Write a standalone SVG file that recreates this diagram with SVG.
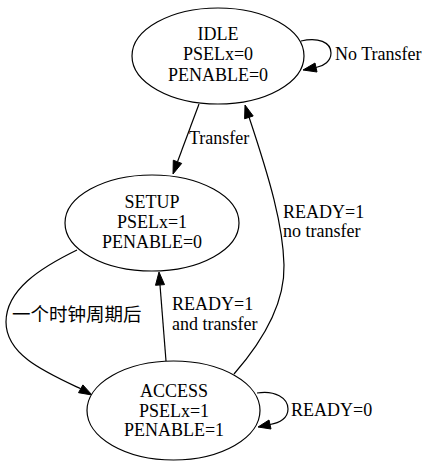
<svg xmlns="http://www.w3.org/2000/svg" width="428" height="466" viewBox="0 0 428 466" font-family="'Liberation Serif', 'Times New Roman', Times, serif" font-size="18">
<style>
.n{fill:#fff;stroke:#000;stroke-width:1.2}
.e{fill:none;stroke:#000;stroke-width:1.2}
.a{fill:#000;stroke:#000;stroke-width:1}
.c{text-anchor:middle}
</style>
<rect width="428" height="466" fill="#fff"/>
<g id="edges">
<g id="e_idle_self">
<path class="e" d="M301,41 C318,37 331,42 331,53 C331,61 324,66 316,67.5"/>
<polygon class="a" points="303,70 315,63 317,72"/>
<text x="335" y="60">No Transfer</text>
</g>
<g id="e_idle_setup">
<path class="e" d="M199,104 L177.5,161.8"/>
<polygon class="a" points="173,174 181.7,163.4 173.3,160.2"/>
<text x="189" y="144">Transfer</text>
</g>
<g id="e_setup_access">
<path class="e" d="M77,250 C40,268 6,290 6,322 C6,355 45,372 80.7,388.8"/>
<polygon class="a" points="92,395 78.5,392.7 82.9,384.9"/>
<text x="12" y="321" font-family="'Noto Sans CJK SC', sans-serif" font-size="18.5">一个时钟周期后</text>
</g>
<g id="e_access_setup">
<path class="e" d="M166,361 L160,285"/>
<polygon class="a" points="159,272 164.5,284.6 155.5,285.3"/>
<text x="172" y="310">READY=1</text>
<text x="172" y="330">and transfer</text>
</g>
<g id="e_access_idle">
<path class="e" d="M234,374 C262,342 285,305 284,265 C283,225 270,180 249,117"/>
<polygon class="a" points="245,105 253.2,116 244.6,118.8"/>
<text x="283" y="218">READY=1</text>
<text x="283" y="237">no transfer</text>
</g>
<g id="e_access_self">
<path class="e" d="M257,393 C275,390 288,398 288,409 C288,418 280,423 270,424.5"/>
<polygon class="a" points="258,427 269,420 271,429"/>
<text x="291" y="416">READY=0</text>
</g>
</g>
<g id="IDLE">
<ellipse class="n" cx="218" cy="56" rx="86" ry="48"/>
<text class="c" x="218" y="39.5">IDLE</text>
<text class="c" x="218" y="60">PSELx=0</text>
<text class="c" x="218" y="80.5">PENABLE=0</text>
</g>
<g id="SETUP">
<ellipse class="n" cx="152" cy="223" rx="87" ry="48"/>
<text class="c" x="152" y="208">SETUP</text>
<text class="c" x="152" y="228">PSELx=1</text>
<text class="c" x="152" y="248">PENABLE=0</text>
</g>
<g id="ACCESS">
<ellipse class="n" cx="173.5" cy="410.5" rx="86.5" ry="49.5"/>
<text class="c" x="174" y="397">ACCESS</text>
<text class="c" x="174" y="416.5">PSELx=1</text>
<text class="c" x="174" y="435.5">PENABLE=1</text>
</g>
</svg>
